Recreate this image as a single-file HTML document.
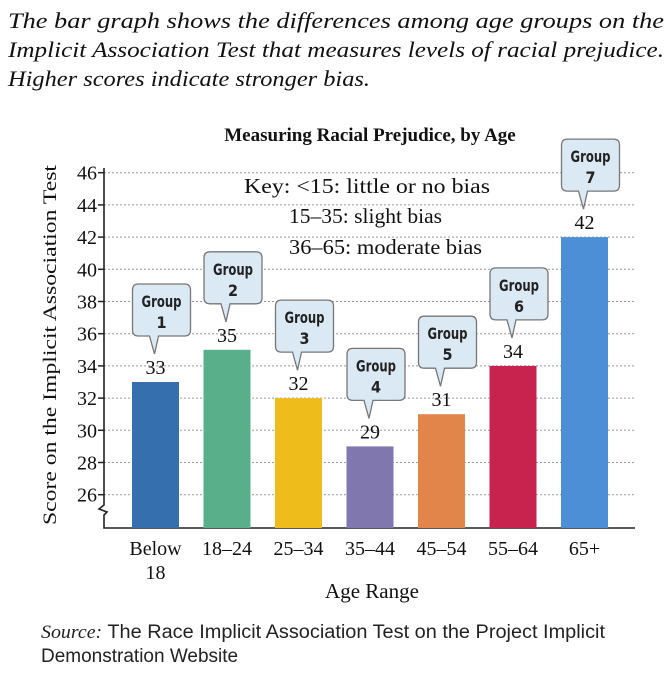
<!DOCTYPE html>
<html><head><meta charset="utf-8"><style>
html,body{margin:0;padding:0;background:#fff;}
body{width:672px;height:678px;overflow:hidden;position:relative;}
</style></head><body>
<svg width="672" height="678" viewBox="0 0 672 678" xmlns="http://www.w3.org/2000/svg" id="svg">
<g font-family="Liberation Serif, serif" font-style="italic" font-size="22" fill="#111">
<text x="8" y="28" textLength="656" lengthAdjust="spacingAndGlyphs">The bar graph shows the differences among age groups on the</text>
<text x="8" y="57" textLength="656" lengthAdjust="spacingAndGlyphs">Implicit Association Test that measures levels of racial prejudice.</text>
<text x="8" y="86" textLength="362" lengthAdjust="spacingAndGlyphs">Higher scores indicate stronger bias.</text>
</g>
<text x="370" y="141" text-anchor="middle" font-family="Liberation Serif, serif" font-weight="bold" font-size="19" fill="#111">Measuring Racial Prejudice, by Age</text>
<g id="grid"></g>
<g id="bars"></g>
<g font-family="Liberation Serif, serif" font-size="21" fill="#111">
<text x="244" y="193" textLength="246" lengthAdjust="spacingAndGlyphs">Key:  &lt;15: little or no bias</text>
<text x="289" y="223" textLength="153" lengthAdjust="spacingAndGlyphs">15–35: slight bias</text>
<text x="289" y="254" textLength="193" lengthAdjust="spacingAndGlyphs">36–65: moderate bias</text>
</g>
<text transform="translate(56,345) rotate(-90)" text-anchor="middle" font-family="Liberation Serif, serif" font-size="19" fill="#111" textLength="360" lengthAdjust="spacingAndGlyphs">Score on the Implicit Association Test</text>
<text x="372" y="598" text-anchor="middle" font-family="Liberation Serif, serif" font-size="21" fill="#111">Age Range</text>
<g font-family="Liberation Sans, sans-serif" font-size="19" fill="#222">
<text x="41" y="638" textLength="564" lengthAdjust="spacingAndGlyphs"><tspan font-family="Liberation Serif, serif" font-style="italic">Source:</tspan> The Race Implicit Association Test on the Project Implicit</text>
<text x="41" y="662">Demonstration Website</text>
</g>
</svg>
<script>
const categories=["Below 18","18–24","25–34","35–44","45–54","55–64","65+"];
const values=[33,35,32,29,31,34,42];
const groupLabels=["1","2","3","4","5","6","7"];
const yTicks=[26,28,30,32,34,36,38,40,42,44,46];
const colors=["#356fae","#5aaf8b","#efbd1b","#7f77ad","#e2854a","#c8234f","#4d8fd6"];
const NS="http://www.w3.org/2000/svg";
function y(v){return 172.7+(46-v)*16.1;}
function x(i){return 132+i*71.5;}
const BW=47, base=528;
function mk(tag,attrs,parent,txt){const e=document.createElementNS(NS,tag);for(const k in attrs)e.setAttribute(k,attrs[k]);if(txt!==undefined)e.textContent=txt;parent.appendChild(e);return e;}
const grid=document.getElementById('grid'), bars=document.getElementById('bars');
yTicks.forEach(t=>{
  const l=mk('line',{x1:104,x2:635,y1:y(t),y2:y(t),stroke:'#999','stroke-width':1,'stroke-dasharray':'2,2'},grid);
  
  
  mk('line',{x1:98,x2:104,y1:y(t),y2:y(t),stroke:'#222','stroke-width':1.5},grid);
  const tl=mk('text',{x:97,y:y(t)+7,'text-anchor':'end','font-family':'Liberation Serif, serif','font-size':20,fill:'#111'},grid,t);
  
  
});
const ax=mk('path',{d:'M104,168 V505 l-5,4 l8,3 l-3,3 V'+base+' H635',fill:'none',stroke:'#222','stroke-width':1.6},grid);


values.forEach((v,i)=>{
  const r=mk('rect',{x:x(i),y:y(v),width:BW,height:base-y(v),fill:colors[i]},bars);
  
  
  const cx=x(i)+BW/2;
  const vl=mk('text',{x:cx,y:y(v)-8,'text-anchor':'middle','font-family':'Liberation Serif, serif','font-size':20,fill:'#111'},bars,v);
  
  
  const bx=cx-23, by=y(v)-98;
  const g=mk('g',{},bars);
  
  
  mk('path',{d:`M${bx+6},${by} H${bx+52} Q${bx+58},${by} ${bx+58},${by+6} V${by+46} Q${bx+58},${by+52} ${bx+52},${by+52} H${bx+26} L${cx-1},${by+70} L${bx+17},${by+52} H${bx+6} Q${bx},${by+52} ${bx},${by+46} V${by+6} Q${bx},${by} ${bx+6},${by} Z`,fill:'#dbe9f4',stroke:'#777','stroke-width':1.3},g);
  mk('text',{x:bx+29,y:by+23,'text-anchor':'middle','font-family':'DejaVu Sans Condensed, DejaVu Sans, sans-serif','font-weight':'bold','font-size':16,fill:'#222',textLength:40,lengthAdjust:'spacingAndGlyphs'},g,'Group');
  mk('text',{x:bx+29,y:by+44,'text-anchor':'middle','font-family':'DejaVu Sans Condensed, DejaVu Sans, sans-serif','font-weight':'bold','font-size':16,fill:'#222'},g,groupLabels[i]);
  const parts=categories[i].split(' ');
  const cl=mk('text',{x:cx,y:555,'text-anchor':'middle','font-family':'Liberation Serif, serif','font-size':20,fill:'#111'},bars);
  
  
  parts.forEach((p,j)=>mk('tspan',{x:cx,dy:j?24:0},cl,p));
});
</script>
</body></html>
